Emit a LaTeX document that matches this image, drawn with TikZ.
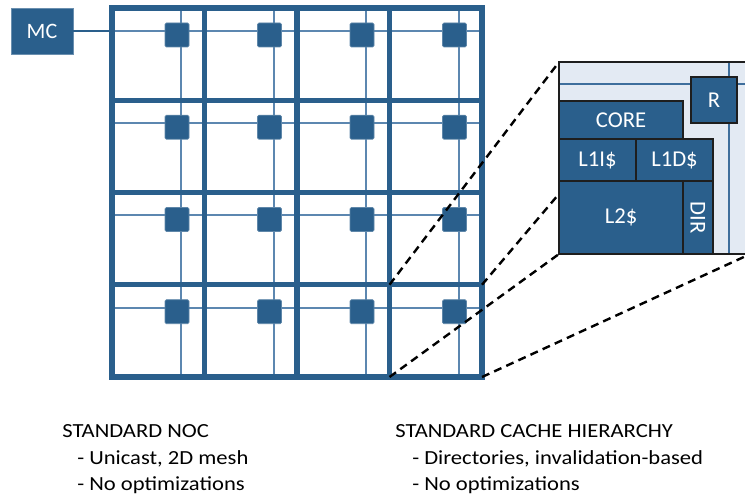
\documentclass[tikz,border=0pt]{standalone}
\usepackage{fontspec}
\setmainfont{Carlito}
\usetikzlibrary{fit}
\definecolor{meshblue}{RGB}{42,95,140}
\definecolor{linkblue}{RGB}{92,135,176}
\definecolor{wireblue}{RGB}{62,110,156}
\definecolor{tilefill}{RGB}{227,234,243}
\definecolor{edgegrey}{RGB}{30,30,30}

\begin{document}
\begin{tikzpicture}[x=0.75pt,y=-0.75pt,
  thickbar/.style={draw=meshblue,line width=4.1pt,line cap=rect},
  thinbar/.style={draw=linkblue,line width=1.5pt},
  router/.style={fill=meshblue,draw=meshblue!75!white,line width=0.5pt,
    rounded corners=1pt,minimum size=18pt,inner sep=0pt},
  block/.style={fill=meshblue,draw=edgegrey,line width=1.1pt,inner sep=0pt,
    text=white,font=\fontsize{17}{17}\selectfont},
  blocklabel/.style={text=white,font=\fontsize{17}{17}\selectfont,inner sep=0pt},
  zoomline/.style={draw=black,line width=1.8pt,dash pattern=on 6pt off 4pt},
  caption/.style={anchor=base west,inner sep=0pt,font=\fontsize{15}{15}\selectfont}
]
\useasboundingbox (0,0) rectangle (745,498);
\clip (0,0) rectangle (745,498);

% memory controller and its link into the mesh
\node[fill=meshblue,draw=meshblue!70!white,line width=0.6pt,inner sep=0pt,
      minimum width=46.5pt,minimum height=34.5pt,text=white,
      font=\fontsize{16.5}{16.5}\selectfont] (mc) at (42,31) {MC};
\coordinate (meshwest) at (112,31);
\draw[meshblue,line width=1.6pt] (mc.east) -- (meshwest);

% thin links inside the 4x4 mesh
\foreach \c in {0,...,3} {
  \draw[thinbar] ({112+92.5*\c+69},8) -- ({112+92.5*\c+69},377);
}
\foreach \r in {0,...,3} {
  \draw[thinbar] (112,{8+92.25*\r+23}) -- (482,{8+92.25*\r+23});
}

% tile borders
\foreach \c in {0,...,4} {
  \draw[thickbar] ({112+92.5*\c},8) -- ({112+92.5*\c},377);
}
\foreach \r in {0,...,4} {
  \draw[thickbar] (112,{8+92.25*\r}) -- (482,{8+92.25*\r});
}

% routers
\foreach \c in {0,...,3} {
  \foreach \r in {0,...,3} {
    \node[router] (rt-\c-\r) at ({112+92.5*\c+65},{8+92.25*\r+27}) {};
  }
}

% corners of the magnified tile and of its enlargement
\coordinate (ztl) at (389.5,284.75);
\coordinate (ztr) at (482,284.75);
\coordinate (zbl) at (389.5,377);
\coordinate (zbr) at (482,377);
\coordinate (etl) at (559,62);
\coordinate (etr) at (636,103);
\coordinate (ebl) at (559,254);
\coordinate (ebr) at (770,245);

\draw[zoomline] (ztl) -- (etl);
\draw[zoomline] (ztr) -- (etr);
\draw[zoomline] (zbl) -- (ebl);
\draw[zoomline] (zbr) -- (ebr);

% enlarged tile
\fill[tilefill] (559,62) rectangle (790,254);
\draw[wireblue,line width=1.5pt] (559,84) -- (790,84);
\draw[wireblue,line width=1.5pt] (729,62) -- (729,254);
\draw[edgegrey,line width=1.1pt] (790,62) -- (559,62) -- (559,254) -- (790,254);

\node[block,fit={(691,77) (737,123)}] (rtr) {};
\node[blocklabel] at (rtr.center) {R};
\node[block,fit={(559,101) (683,139)}] (core) {};
\node[blocklabel] at (core.center) {CORE};
\node[block,fit={(559,139) (636,181)}] (l1i) {};
\node[blocklabel] at (l1i.center) {L1I\$};
\node[block,fit={(636,139) (713,181)}] (l1d) {};
\node[blocklabel] at (l1d.center) {L1D\$};
\node[block,fit={(559,181) (683,254)}] (l2) {};
\node[blocklabel] at (l2.center) {L2\$};
\node[block,fit={(683,181) (713,254)}] (dir) {};
\node[blocklabel,rotate=-90] at (dir.center) {DIR};

% captions
\node[caption] (noc1) at (62,437) {\scalebox{1.13}[1]{STANDARD NOC}};
\node[caption] (noc2) at (77,464) {\scalebox{1.13}[1]{- Unicast, 2D mesh}};
\node[caption] (noc3) at (77,490) {\scalebox{1.13}[1]{- No optimizations}};
\node[caption] (ch1) at (395,437) {\scalebox{1.13}[1]{STANDARD CACHE HIERARCHY}};
\node[caption] (ch2) at (412,464) {\scalebox{1.13}[1]{- Directories, invalidation-based}};
\node[caption] (ch3) at (412,490) {\scalebox{1.13}[1]{- No optimizations}};
\end{tikzpicture}
\end{document}
